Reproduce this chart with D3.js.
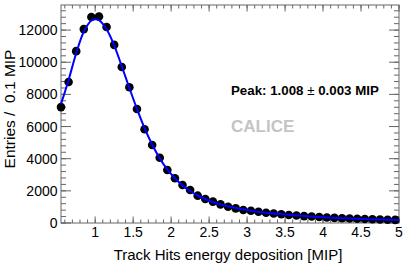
<!DOCTYPE html>
<html>
<head>
<meta charset="utf-8">
<script src="https://cdn.jsdelivr.net/npm/d3@7"></script>
<style>
  body { margin: 0; background: #fff; }
  svg { display: block; font-family: 'Liberation Sans', Arial, sans-serif; }
</style>
</head>
<body>
<div id="chart"></div>
<script>
// Histogram bin centres (0.1 MIP bins) and their entries
const binCenters = [0.55, 0.65, 0.75, 0.85, 0.95, 1.05, 1.15, 1.25, 1.35, 1.45,
    1.55, 1.65, 1.75, 1.85, 1.95, 2.05, 2.15, 2.25, 2.35, 2.45,
    2.55, 2.65, 2.75, 2.85, 2.95, 3.05, 3.15, 3.25, 3.35, 3.45,
    3.55, 3.65, 3.75, 3.85, 3.95, 4.05, 4.15, 4.25, 4.35, 4.45,
    4.55, 4.65, 4.75, 4.85, 4.95]
const entries = [7210, 8770, 10690, 12060, 12810, 12840, 12190, 11080, 9700, 8440,
    7090, 5830, 4850, 4060, 3300, 2780, 2360, 2050, 1700, 1490,
    1330, 1160, 1015, 910, 810, 765, 700, 640, 590, 545,
    500, 465, 430, 400, 370, 345, 320, 300, 280, 262,
    246, 232, 218, 205, 192]

// Fitted curve
const fitX = [0.55, 0.65, 0.75, 0.85, 0.95, 1.0, 1.05, 1.15, 1.25, 1.35, 1.45,
    1.55, 1.65, 1.75, 1.85, 1.95, 2.05, 2.15, 2.25, 2.35, 2.45,
    2.55, 2.65, 2.75, 2.85, 2.95, 3.05, 3.25, 3.5, 3.75, 4.0, 4.25, 4.5, 4.75, 5.0]
const fitY = [7400, 8900, 10560, 11900, 12600, 12680, 12620, 12050, 11050, 9750, 8400,
    7100, 5900, 4880, 4020, 3330, 2780, 2340, 1990, 1710, 1490,
    1310, 1160, 1035, 930, 840, 765, 640, 525, 435, 360, 300, 255, 215, 185]

const xMajor = [1, 1.5, 2, 2.5, 3, 3.5, 4, 4.5, 5]
const xMajorLabels = ['1', '1.5', '2', '2.5', '3', '3.5', '4', '4.5', '5']
const yMajor = [0, 2000, 4000, 6000, 8000, 10000, 12000]

const width = 407
const height = 279
const margin = { left: 61, right: 8, top: 5, bottom: 56 }
const AXIS_COLOR = '#666'

const svg = d3.select('#chart')
    .append('svg')
    .attr('width', width)
    .attr('height', height)

const x = d3.scaleLinear().domain([0.55, 5]).range([margin.left, width - margin.right])
const y = d3.scaleLinear().domain([0, 13560]).range([height - margin.bottom, margin.top])

const [x0, x1] = x.range()
const [y0, y1] = y.range()

// Minor tick values
const xMinor = d3.range(6, 51).map(d => d / 10).filter(d => d >= 0.55 && d <= 5)
const yMinor = d3.range(0, 13600, 400)

const g = svg.append('g')

// Frame
g.append('rect')
    .attr('x', x0).attr('y', y1)
    .attr('width', x1 - x0).attr('height', y0 - y1)
    .attr('fill', 'none')
    .attr('stroke', AXIS_COLOR)
    .attr('stroke-width', 1)

// Ticks: bottom / top for x, left / right for y
const xTick = (vals, len) => {
    g.selectAll(null).data(vals).enter().append('line')
        .attr('x1', d => x(d)).attr('x2', d => x(d))
        .attr('y1', y0).attr('y2', y0 - len)
        .attr('stroke', AXIS_COLOR)
    g.selectAll(null).data(vals).enter().append('line')
        .attr('x1', d => x(d)).attr('x2', d => x(d))
        .attr('y1', y1).attr('y2', y1 + len)
        .attr('stroke', AXIS_COLOR)
}
const yTick = (vals, len) => {
    g.selectAll(null).data(vals).enter().append('line')
        .attr('x1', x0).attr('x2', x0 + len)
        .attr('y1', d => y(d)).attr('y2', d => y(d))
        .attr('stroke', AXIS_COLOR)
    g.selectAll(null).data(vals).enter().append('line')
        .attr('x1', x1).attr('x2', x1 - len)
        .attr('y1', d => y(d)).attr('y2', d => y(d))
        .attr('stroke', AXIS_COLOR)
}
xTick(xMinor, 3.5)
xTick(xMajor, 6.5)
yTick(yMinor, 5)
yTick(yMajor, 10)

// Tick labels
g.selectAll(null).data(xMajor).enter().append('text')
    .attr('x', d => x(d))
    .attr('y', y0 + 14)
    .attr('text-anchor', 'middle')
    .attr('font-size', 14)
    .text((d, i) => xMajorLabels[i])

g.selectAll(null).data(yMajor).enter().append('text')
    .attr('x', x0 - 3.5)
    .attr('y', d => y(d) + 5)
    .attr('text-anchor', 'end')
    .attr('font-size', 14)
    .text(d => d)

// Axis titles
svg.append('text')
    .attr('x', (x0 + x1) / 2 - 2)
    .attr('y', 260)
    .attr('text-anchor', 'middle')
    .attr('font-size', 15)
    .text('Track Hits energy deposition [MIP]')

svg.append('text')
    .attr('transform', 'translate(15,109) rotate(-90)')
    .attr('text-anchor', 'middle')
    .attr('font-size', 15.5)
    .attr('xml:space', 'preserve')
    .text('Entries /  0.1 MIP')

// Data points
g.selectAll('.pt').data(binCenters).enter().append('circle')
    .attr('class', 'pt')
    .attr('cx', d => x(d))
    .attr('cy', (d, i) => y(entries[i]))
    .attr('r', 4.3)
    .attr('fill', '#000')

// Fit
const line = d3.line()
    .x(d => x(d[0]))
    .y(d => y(d[1]))
    .curve(d3.curveCatmullRom)

g.append('path')
    .datum(d3.zip(fitX, fitY))
    .attr('d', line)
    .attr('fill', 'none')
    .attr('stroke', '#0000ff')
    .attr('stroke-width', 2)

// Annotations
svg.append('text')
    .attr('x', 231)
    .attr('y', 95)
    .attr('font-size', 13.3)
    .attr('font-weight', 'bold')
    .text('Peak: 1.008 ')
    .append('tspan').attr('font-weight', 'normal').text('±')
    .append('tspan').attr('font-weight', 'bold').text(' 0.003 MIP')

svg.append('text')
    .attr('x', 231)
    .attr('y', 132)
    .attr('font-size', 17)
    .attr('font-weight', 'bold')
    .attr('fill', '#c4c4c4')
    .text('CALICE')
</script>
</body>
</html>
